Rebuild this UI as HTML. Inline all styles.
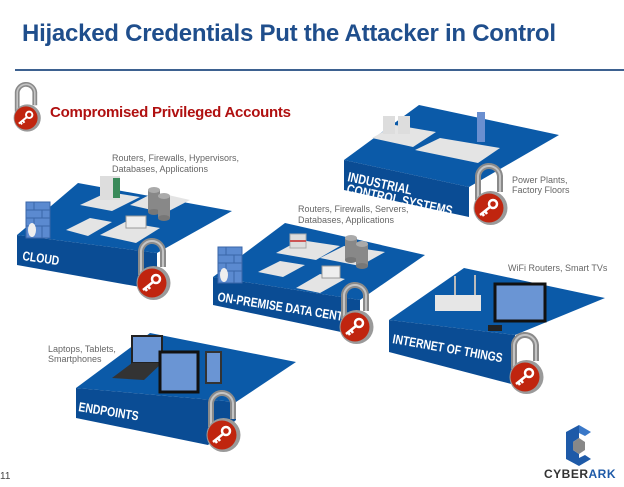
<!DOCTYPE html>
<html><head><meta charset="utf-8"><style>
body{margin:0;background:#fff;width:624px;height:482px;overflow:hidden;font-family:"Liberation Sans",sans-serif}
</style></head><body>
<svg width="624" height="482" viewBox="0 0 624 482" xmlns="http://www.w3.org/2000/svg" font-family="Liberation Sans, sans-serif">
<defs>
<g id="lock">
  <path d="M-11,-8 L-11,-30 A11,11 0 0 1 11,-32 L11,-16" fill="none" stroke="#8a8a8a" stroke-width="6"/>
  <path d="M-11,-8 L-11,-30 A11,11 0 0 1 11,-32 L11,-16" fill="none" stroke="#c4c4c4" stroke-width="2"/>
  <circle cx="1.5" cy="0" r="17" fill="#9a9a9a"/>
  <circle cx="0" cy="0" r="14.5" fill="#c0250f"/>
  <circle cx="4" cy="-4" r="4" fill="none" stroke="#fff" stroke-width="2.5"/>
  <path d="M1,-1 L-9,7 M-7,5 L-5,8 M-4,3 L-2,6" stroke="#fff" stroke-width="2.5" fill="none"/>
</g>
<g id="server"><rect width="16" height="14" fill="#ddd" stroke="#aaa"/><rect x="0" y="6" width="16" height="2" fill="#c55"/></g>
<g id="db"><rect x="0" y="0" width="12" height="22" fill="#888"/><ellipse cx="6" cy="0" rx="6" ry="3" fill="#aaa"/><ellipse cx="6" cy="22" rx="6" ry="3" fill="#777"/></g>
<g id="wall"><rect width="24" height="36" fill="#5b8ad0" stroke="#3a66a8"/><path d="M0,8H24M0,16H24M0,24H24M8,0V8M16,8V16M8,16V24M16,24V36" stroke="#3a66a8"/><ellipse cx="6" cy="28" rx="4" ry="7" fill="#eee"/></g>
</defs>

<text x="22" y="41" font-size="24" font-weight="bold" fill="#1f4e8c" textLength="534">Hijacked Credentials Put the Attacker in Control</text>
<rect x="15" y="69" width="609" height="2" fill="#3d6190"/>

<g transform="translate(26 118) scale(0.8)"><use href="#lock"/></g>
<text x="50" y="117" font-size="15" font-weight="bold" fill="#b01010" textLength="241">Compromised Privileged Accounts</text>

<!-- ICS -->
<polygon points="344,160 419,105 559,135 469,187" fill="#0b5aa8"/>
<polygon points="344,160 469,187 469,217 344,190" fill="#0a4c94"/>
<polygon points="372,138 395,125 436,132 413,147" fill="#e4e4e4"/>
<polygon points="415,150 440,138 500,148 478,163" fill="#e4e4e4"/>
<rect x="383" y="116" width="12" height="18" fill="#ddd"/><rect x="398" y="116" width="12" height="18" fill="#ddd"/>
<rect x="477" y="112" width="8" height="30" fill="#6a8fd0"/>
<text font-size="13.5" font-weight="bold" fill="#fff" transform="translate(347 181) rotate(12) scale(0.8 1)">INDUSTRIAL</text>
<text font-size="13.5" font-weight="bold" fill="#fff" transform="translate(346 193) rotate(12) scale(0.8 1)">CONTROL SYSTEMS</text>
<text x="512" y="183" font-size="9" fill="#666">Power Plants,</text>
<text x="512" y="193" font-size="9" fill="#666">Factory Floors</text>
<use href="#lock" x="489" y="208"/>

<!-- CLOUD -->
<polygon points="17,235 78,183 232,211 157,253" fill="#0b5aa8"/>
<polygon points="17,235 157,253 157,290 17,265" fill="#0a4c94"/>
<polygon points="80,205 108,192 140,197 112,211" fill="#e4e4e4"/>
<polygon points="66,230 90,218 112,222 88,236" fill="#e4e4e4"/>
<polygon points="100,235 125,222 160,228 136,243" fill="#e4e4e4"/>
<polygon points="130,205 155,192 190,200 165,213" fill="#e4e4e4"/>
<rect x="100" y="176" width="20" height="24" fill="#ddd"/><rect x="113" y="178" width="7" height="20" fill="#3a8a5a"/>
<use href="#db" x="148" y="190"/><use href="#db" x="158" y="196"/>
<rect x="126" y="216" width="20" height="12" fill="#eee" stroke="#999"/>
<use href="#wall" x="26" y="202"/>
<text font-size="13" font-weight="bold" fill="#fff" transform="translate(22 260) rotate(8) scale(0.8 1)">CLOUD</text>
<text x="112" y="161" font-size="9" fill="#666">Routers, Firewalls, Hypervisors,</text>
<text x="112" y="172" font-size="9" fill="#666">Databases, Applications</text>
<use href="#lock" x="152" y="283"/>

<!-- ON-PREMISE -->
<polygon points="213,277 285,223 425,255 360,300" fill="#0b5aa8"/>
<polygon points="213,277 360,300 360,336 213,305" fill="#0a4c94"/>
<polygon points="258,272 280,261 305,265 283,277" fill="#e4e4e4"/>
<polygon points="276,253 300,240 340,246 316,260" fill="#e4e4e4"/>
<polygon points="296,288 320,274 345,279 320,293" fill="#e4e4e4"/>
<polygon points="320,258 344,246 385,252 360,266" fill="#e4e4e4"/>
<use href="#server" x="290" y="234"/><use href="#db" x="345" y="238"/><use href="#db" x="356" y="244"/>
<rect x="322" y="266" width="18" height="12" fill="#eee" stroke="#999"/>
<use href="#wall" x="218" y="247"/>
<text font-size="13" font-weight="bold" fill="#fff" transform="translate(217 301) rotate(9) scale(0.8 1)">ON-PREMISE DATA CENTER</text>
<text x="298" y="212" font-size="9" fill="#666">Routers, Firewalls, Servers,</text>
<text x="298" y="223" font-size="9" fill="#666">Databases, Applications</text>
<use href="#lock" x="355" y="327"/>

<!-- IoT -->
<polygon points="389,320 464,268 605,298 515,335" fill="#0b5aa8"/>
<polygon points="389,320 515,335 515,385 389,352" fill="#0a4c94"/>
<rect x="435" y="295" width="46" height="16" fill="#e6e6e6"/>
<path d="M455,295 V276 M475,295 V275" stroke="#bbb" stroke-width="2"/>
<rect x="495" y="284" width="50" height="37" fill="#6a95d4" stroke="#111" stroke-width="3"/>
<rect x="488" y="325" width="14" height="6" fill="#222"/>
<text font-size="13" font-weight="bold" fill="#fff" transform="translate(392 343) rotate(10) scale(0.8 1)">INTERNET OF THINGS</text>
<text x="508" y="271" font-size="9" fill="#666">WiFi Routers, Smart TVs</text>
<use href="#lock" x="525" y="377"/>

<!-- ENDPOINTS -->
<polygon points="76,388 150,333 296,362 236,402" fill="#0b5aa8"/>
<polygon points="76,388 236,402 236,420 208,445 76,418" fill="#0a4c94"/>
<rect x="132" y="336" width="30" height="27" fill="#6a95d4" stroke="#222" stroke-width="2"/>
<polygon points="112,378 132,363 162,363 144,380" fill="#333"/>
<rect x="160" y="352" width="38" height="40" fill="#6a95d4" stroke="#111" stroke-width="3"/>
<rect x="206" y="352" width="15" height="31" fill="#6a95d4" stroke="#333" stroke-width="2"/>
<text font-size="13" font-weight="bold" fill="#fff" transform="translate(78 411) rotate(9) scale(0.8 1)">ENDPOINTS</text>
<text x="48" y="352" font-size="9" fill="#666">Laptops, Tablets,</text>
<text x="48" y="362" font-size="9" fill="#666">Smartphones</text>
<use href="#lock" x="222" y="435"/>

<text x="0" y="479" font-size="10" fill="#444">11</text>
<!-- logo -->
<polygon points="566,432 579,425 579,438 573,442 573,450 579,454 579,466 566,459" fill="#1e5aa8"/>
<polygon points="579,425 591,432 585,436 579,433" fill="#3a78c8"/>
<polygon points="579,466 591,459 585,455 579,458" fill="#1e5aa8"/>
<polygon points="573,442 579,438 585,442 585,450 579,454 573,450" fill="#888"/>
<text x="544" y="478" font-size="12" font-weight="bold" fill="#333" letter-spacing="0.5">CYBER<tspan fill="#1e5aa8">ARK</tspan></text>
</svg>
</body></html>
